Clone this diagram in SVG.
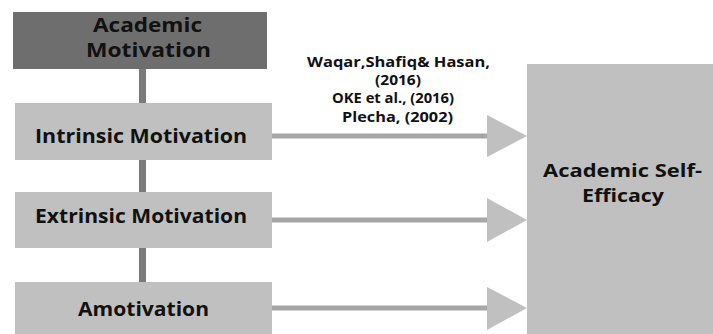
<svg xmlns="http://www.w3.org/2000/svg" width="713" height="334" viewBox="0 0 713 334">
<style>
text{font-family:"Open Sans","DejaVu Sans",sans-serif;font-weight:bold;fill:#111;text-anchor:middle}
.dark{fill:#6e6e6e}
.light{fill:#c0c0c0}
.vline{stroke:#7a7a7a;stroke-width:7}
.hline{stroke:#a6a6a6;stroke-width:5}
.head{fill:#c0c0c0}
.cite{font-size:14px}
</style>
<rect width="713" height="334" fill="#fff"/>
<g id="connectors">
<line class="vline" x1="142.5" y1="69" x2="142.5" y2="103"/>
<line class="vline" x1="142.5" y1="160" x2="142.5" y2="192"/>
<line class="vline" x1="142.5" y1="248" x2="142.5" y2="282"/>
<line class="hline" x1="272" y1="136" x2="490" y2="136"/>
<polygon class="head" points="487,115 527,136 487,157"/>
<line class="hline" x1="272" y1="220" x2="490" y2="220"/>
<polygon class="head" points="487,198 527,220 487,242"/>
<line class="hline" x1="272" y1="308" x2="490" y2="308"/>
<polygon class="head" points="487,287 527,308 487,330"/>
<g id="citation">
<text class="cite" x="398.5" y="67" textLength="183" lengthAdjust="spacingAndGlyphs">Waqar,Shafiq&amp; Hasan,</text>
<text class="cite" x="398" y="85" textLength="46" lengthAdjust="spacingAndGlyphs">(2016)</text>
<text class="cite" x="393" y="103" textLength="122" lengthAdjust="spacingAndGlyphs">OKE et al., (2016)</text>
<text class="cite" x="397.5" y="122" textLength="111" lengthAdjust="spacingAndGlyphs">Plecha, (2002)</text>
</g>
</g>
<g id="academic-motivation">
<rect class="dark" x="13" y="12" width="254" height="57"/>
<text x="147.5" y="32" font-size="20" textLength="109" lengthAdjust="spacingAndGlyphs">Academic</text>
<text x="148.5" y="57" font-size="20" textLength="125" lengthAdjust="spacingAndGlyphs">Motivation</text>
</g>
<g id="intrinsic">
<rect class="light" x="15" y="103" width="257" height="57"/>
<text x="141" y="143" font-size="19" textLength="212" lengthAdjust="spacingAndGlyphs">Intrinsic Motivation</text>
</g>
<g id="extrinsic">
<rect class="light" x="15" y="192" width="257" height="56"/>
<text x="141" y="223" font-size="19" textLength="212" lengthAdjust="spacingAndGlyphs">Extrinsic Motivation</text>
</g>
<g id="amotivation">
<rect class="light" x="15" y="282" width="257" height="52"/>
<text x="143.5" y="316" font-size="19" textLength="131" lengthAdjust="spacingAndGlyphs">Amotivation</text>
</g>
<g id="self-efficacy">
<rect class="light" x="527" y="64" width="186" height="270"/>
<text x="622.5" y="177" font-size="18" textLength="159" lengthAdjust="spacingAndGlyphs">Academic Self-</text>
<text x="623" y="202" font-size="18" textLength="82" lengthAdjust="spacingAndGlyphs">Efficacy</text>
</g>
</svg>
